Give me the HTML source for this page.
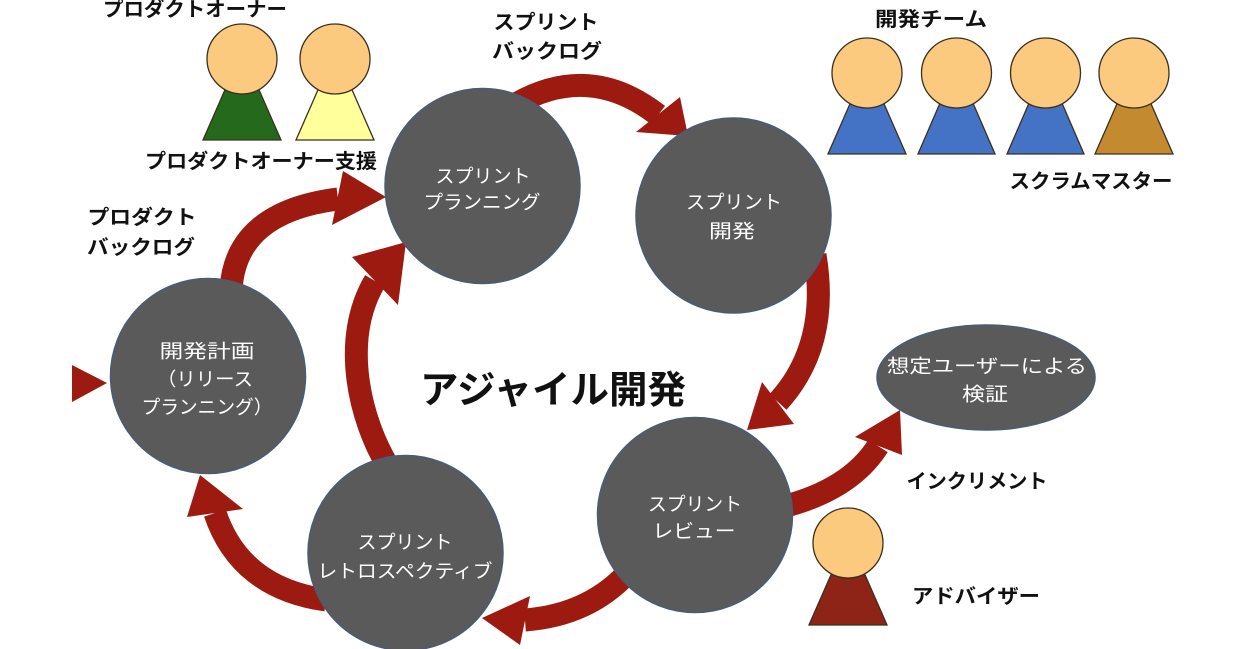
<!DOCTYPE html>
<html><head><meta charset="utf-8"><style>
html,body{margin:0;padding:0;background:#fff;}
svg{display:block;}
text{font-family:"Liberation Sans","Noto Sans CJK JP",sans-serif;}
.lb{font-weight:bold;fill:#111;font-size:20px;}
.wt{fill:#fff;font-size:19px;}
</style></head><body>
<svg width="1239" height="649" viewBox="0 0 1239 649" xmlns="http://www.w3.org/2000/svg">
<rect width="1239" height="649" fill="#fff"/>
<g fill="none" stroke="#9c1a0f" stroke-width="23">
<path d="M231,290 Q235,212 338,199"/>
<path d="M388,466 C360,420 340,340 375,281"/>
<path d="M516,104 Q590,62 658,115"/>
<path d="M815,255 Q830,345 778,402"/>
<path d="M632,568 Q592,615 525,620"/>
<path d="M326,600 Q240,588 215,513"/>
<path d="M782,507 Q850,490 878,446"/>
</g>
<g fill="#9c1a0f">
<polygon points="343,171 386,197 332,225"/>
<polygon points="352,257 406,242 398,305"/>
<polygon points="680,97 688,136 636,132"/>
<polygon points="762,382 794,424 747,430"/>
<polygon points="530,596 520,645 482,618"/>
<polygon points="187,517 243,509 200,475"/>
<polygon points="855,437 902,455 900,410"/>
<polygon points="72,365 72,402 107,383"/>
</g>
<g fill="#5a5a5b" stroke="#4a5b75" stroke-width="1.5">
<circle cx="482.5" cy="186" r="97.5"/>
<circle cx="733.5" cy="215.5" r="97.5"/>
<circle cx="695" cy="515" r="97.5"/>
<circle cx="405.5" cy="553" r="97.5"/>
<circle cx="208" cy="376" r="97.5"/>
<ellipse cx="986" cy="377.5" rx="109" ry="52.5"/>
</g>
<g stroke="#3a3020" stroke-width="1.3">
<polygon points="242,51 281,140 203,140" fill="#256a1c"/>
<polygon points="335,51 374,140 296,140" fill="#ffff9c"/>
<circle cx="242" cy="59" r="35" fill="#fcca7e"/>
<circle cx="335" cy="59" r="35" fill="#fcca7e"/>
<polygon points="867,65 906,154 828,154" fill="#4472c4"/>
<polygon points="956.5,65 995,154 918,154" fill="#4472c4"/>
<polygon points="1045.5,65 1084,154 1007,154" fill="#4472c4"/>
<polygon points="1134,65 1173,154 1095,154" fill="#c48a30"/>
<circle cx="867" cy="73" r="35" fill="#fcca7e"/>
<circle cx="956.5" cy="73" r="35" fill="#fcca7e"/>
<circle cx="1045.5" cy="73" r="35" fill="#fcca7e"/>
<circle cx="1134" cy="73" r="35" fill="#fcca7e"/>
<polygon points="848,536 887,625 809,625" fill="#8e2418"/>
<circle cx="848" cy="543" r="35" fill="#fcca7e"/>
</g>
<g class="lb" text-anchor="middle" dominant-baseline="central">
<text x="195" y="10" textLength="184" lengthAdjust="spacingAndGlyphs">プロダクトオーナー</text>
<text x="261" y="162" textLength="232" lengthAdjust="spacingAndGlyphs">プロダクトオーナー支援</text>
<text x="546" y="23" textLength="105" lengthAdjust="spacingAndGlyphs">スプリント</text>
<text x="547" y="52" textLength="110" lengthAdjust="spacingAndGlyphs">バックログ</text>
<text x="142" y="218" textLength="109" lengthAdjust="spacingAndGlyphs">プロダクト</text>
<text x="141" y="248" textLength="108" lengthAdjust="spacingAndGlyphs">バックログ</text>
<text x="931" y="20" textLength="112" lengthAdjust="spacingAndGlyphs">開発チーム</text>
<text x="1091" y="182" textLength="163" lengthAdjust="spacingAndGlyphs">スクラムマスター</text>
<text x="977" y="482" textLength="141" lengthAdjust="spacingAndGlyphs">インクリメント</text>
<text x="976" y="597" textLength="128" lengthAdjust="spacingAndGlyphs">アドバイザー</text>
<text x="553" y="391" style="font-size:38px" textLength="266" lengthAdjust="spacingAndGlyphs">アジャイル開発</text>
</g>
<g class="wt" text-anchor="middle" dominant-baseline="central">
<text x="483" y="177" textLength="95" lengthAdjust="spacingAndGlyphs">スプリント</text>
<text x="482" y="203" textLength="117" lengthAdjust="spacingAndGlyphs">プランニング</text>
<text x="734" y="203" textLength="96" lengthAdjust="spacingAndGlyphs">スプリント</text>
<text x="732" y="232" textLength="46" lengthAdjust="spacingAndGlyphs">開発</text>
<text x="695" y="505" textLength="94" lengthAdjust="spacingAndGlyphs">スプリント</text>
<text x="694" y="532" textLength="83" lengthAdjust="spacingAndGlyphs">レビュー</text>
<text x="405" y="543" textLength="95" lengthAdjust="spacingAndGlyphs">スプリント</text>
<text x="405" y="572" textLength="175" lengthAdjust="spacingAndGlyphs">レトロスペクティブ</text>
<text x="207" y="352" textLength="95" lengthAdjust="spacingAndGlyphs">開発計画</text>
<text x="205" y="380" textLength="96" lengthAdjust="spacingAndGlyphs">（リリース</text>
<text x="207" y="408" textLength="131" lengthAdjust="spacingAndGlyphs">プランニング）</text>
<text x="987" y="367" textLength="200" lengthAdjust="spacingAndGlyphs">想定ユーザーによる</text>
<text x="985" y="395" textLength="46" lengthAdjust="spacingAndGlyphs">検証</text>
</g>
</svg>
</body></html>
